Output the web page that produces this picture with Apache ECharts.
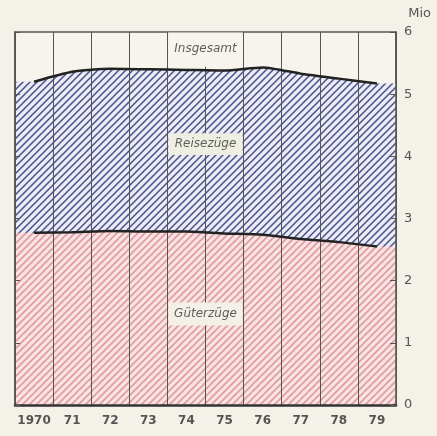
<!DOCTYPE html>
<html>
<head>
<meta charset="utf-8">
<script src="https://cdn.jsdelivr.net/npm/echarts@6/dist/echarts.min.js"></script>
<style>
html,body{margin:0;padding:0;background:#f3f1e8;}
#c{width:437px;height:436px;}
</style>
</head>
<body>
<div id="c"></div>
<script>
// ---- data (Mio) ----
var years = ['1970','71','72','73','74','75','76','77','78','79'];
var gueterzuege = [2.77, 2.78, 2.80, 2.79, 2.79, 2.76, 2.74, 2.67, 2.62, 2.55];
var insgesamt   = [5.20, 5.36, 5.41, 5.40, 5.39, 5.38, 5.43, 5.33, 5.25, 5.17];
var yTicks = [0, 1, 2, 3, 4, 5, 6];
var labelTexts = {total: 'Insgesamt', reise: 'Reisezüge', gueter: 'Güterzüge'};

function hatch(bg, fg, lw) {
  var s = 7;
  var c = document.createElement('canvas');
  c.width = s; c.height = s;
  var ctx = c.getContext('2d');
  ctx.fillStyle = bg; ctx.fillRect(0, 0, s, s);
  ctx.strokeStyle = fg; ctx.lineWidth = lw;
  ctx.beginPath();
  ctx.moveTo(0, s); ctx.lineTo(s, 0);
  ctx.moveTo(-1, 1); ctx.lineTo(1, -1);
  ctx.moveTo(s - 1, s + 1); ctx.lineTo(s + 1, s - 1);
  ctx.stroke();
  return {image: c, repeat: 'repeat'};
}

function pts(arr) { return arr.map(function (v, i) { return [i, v]; }); }
function extended(arr) {
  var p = pts(arr);
  p.unshift([-0.5, arr[0]]);
  p.push([arr.length - 0.5, arr[arr.length - 1]]);
  return p;
}

var chart = echarts.init(document.getElementById('c'));
var option = {
  backgroundColor: '#f3f1e8',
  animation: false,
  grid: {left: 15, right: 41, top: 32, bottom: 31, show: true,
         backgroundColor: '#f6f4ec', borderColor: '#555', borderWidth: 1.5},
  xAxis: [
    {type: 'category', data: years, boundaryGap: true, z: 3,
     axisLine: {show: true, onZero: false, lineStyle: {color: '#333', width: 2.5}},
     axisTick: {show: false, interval: 0},
     splitLine: {show: true, interval: 0, lineStyle: {color: '#555', width: 1}},
     axisLabel: {interval: 0, color: '#555', fontSize: 12, fontWeight: 'bold',
                 fontFamily: 'DejaVu Sans', margin: 10}},
    {type: 'value', min: -0.5, max: years.length - 0.5, show: false}
  ],
  yAxis: [
    {type: 'value', position: 'right', min: 0, max: 6, interval: 1, z: 3,
     axisLine: {show: true, onZero: false, lineStyle: {color: '#555', width: 1.5}},
     axisTick: {show: true, inside: true, length: 6, lineStyle: {color: '#555'}},
     splitLine: {show: false},
     axisLabel: {color: '#555', fontSize: 13, fontFamily: 'DejaVu Sans', margin: 8,
                 formatter: function (v) { return yTicks.indexOf(v) >= 0 ? String(v) : ''; }}},
    {type: 'value', position: 'left', min: 0, max: 6, interval: 1, z: 3,
     axisLine: {show: true, onZero: false, lineStyle: {color: '#555', width: 1.5}},
     axisTick: {show: true, inside: true, length: 5, lineStyle: {color: '#555'}},
     splitLine: {show: false},
     axisLabel: {show: false}}
  ],
  series: [
    {type: 'line', name: 'Reisezüge', xAxisIndex: 1, yAxisIndex: 0, z: 1,
     data: extended(insgesamt), symbol: 'none', smooth: 0.2,
     lineStyle: {width: 0}, areaStyle: {color: hatch('#ebebf4', '#4a4f8e', 1.5), opacity: 1}},
    {type: 'line', name: 'Güterzüge', xAxisIndex: 1, yAxisIndex: 0, z: 2,
     data: extended(gueterzuege), symbol: 'none', smooth: 0.2,
     lineStyle: {width: 0}, areaStyle: {color: hatch('#f8e4e3', '#e29aa2', 1.6), opacity: 1}},
    {type: 'line', name: 'Insgesamt', xAxisIndex: 1, yAxisIndex: 0, z: 5,
     data: pts(insgesamt), symbol: 'none', smooth: 0.2,
     lineStyle: {color: '#222', width: 2.5}},
    {type: 'line', name: 'Güterzüge Linie', xAxisIndex: 1, yAxisIndex: 0, z: 5,
     data: pts(gueterzuege), symbol: 'none', smooth: 0.2,
     lineStyle: {color: '#222', width: 2.5}}
  ]
};
chart.setOption(option);

function box(text, yTop, yBot, textVal, bg) {
  var x0 = chart.convertToPixel({xAxisIndex: 1}, 3.5);
  var x1 = chart.convertToPixel({xAxisIndex: 1}, 5.5);
  var y0 = chart.convertToPixel({yAxisIndex: 0}, yTop);
  var y1 = chart.convertToPixel({yAxisIndex: 0}, yBot);
  var yt = chart.convertToPixel({yAxisIndex: 0}, textVal);
  return {
    type: 'group', z: 4,
    children: [
      {type: 'rect', shape: {x: x0 + 1, y: y0, width: x1 - x0 - 2, height: y1 - y0},
       style: {fill: bg}, z: 4},
      {type: 'text', x: (x0 + x1) / 2, y: yt, z: 101,
       style: {text: text, fill: '#5e5e5e', fontSize: 12, fontStyle: 'italic',
               fontFamily: 'DejaVu Sans', align: 'center', verticalAlign: 'middle'}}
    ]
  };
}

chart.setOption({
  graphic: [
    box(labelTexts.total, 5.99, 5.44, 5.73, '#f6f4ec'),
    box(labelTexts.reise, 4.37, 4.02, 4.2, '#efeee2'),
    box(labelTexts.gueter, 1.65, 1.28, 1.47, '#f4f0e8'),
    {type: 'text', right: 6, top: 7, z: 100,
     style: {text: 'Mio', fill: '#555', fontSize: 13, fontFamily: 'DejaVu Sans'}}
  ]
});
</script>
</body>
</html>
